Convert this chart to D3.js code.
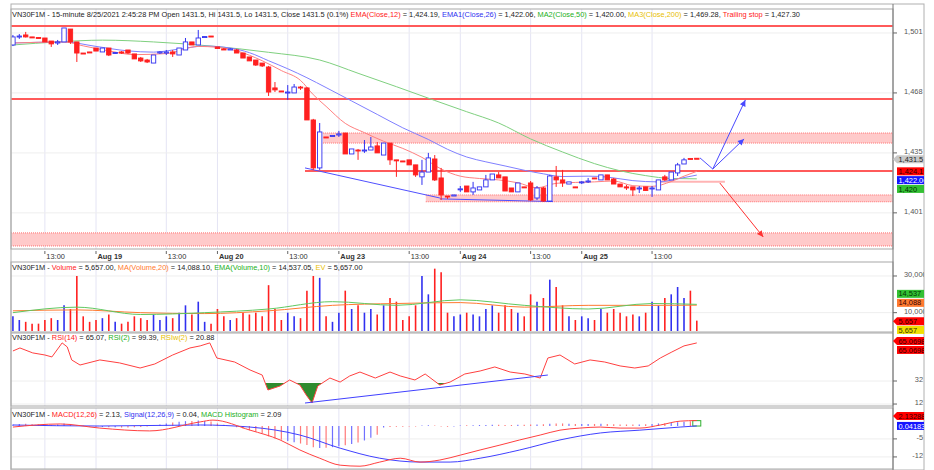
<!DOCTYPE html>
<html lang="en">
<head>
<meta charset="UTF-8">
<title>VN30F1M 15-minute</title>
<script src="https://d3js.org/d3.v7.min.js"></script>
<style>
  body { margin: 0; background: #fff; }
  text { font-family: "Liberation Sans", Arial, sans-serif; font-size: 7.4px; }
</style>
</head>
<body>
<svg></svg>
<script>
// ---- bars (15-minute), index 0 = first visible bar ----
const opens = [1494.8,1499.3,1500.4,1499.3,1499.0,1498.7,1497.0,1495.9,1496.5,1503.7,1496.5,1490.3,1490.9,1493.1,1490.9,1493.1,1490.3,1490.9,1492.0,1489.8,
  1487.5,1486.4,1484.7,1490.3,1490.3,1490.9,1489.2,1492.0,1496.5,1494.8,1499.3,1499.8,1493.7,1492.6,1492.0,1492.0,1490.3,1488.1,1486.4,1484.7,
  1482.5,1470.8,1469.1,1468.0,1468.0,1471.3,1470.8,1452.9,1426.1,1443.4,1444.0,1444.5,1445.6,1433.9,1436.1,1435.9,1436.1,1438.4,1433.3,1440.0,
  1430.6,1430.0,1430.6,1427.8,1421.1,1423.8,1431.1,1420.5,1410.4,1410.4,1414.1,1416.0,1412.7,1413.8,1415.5,1419.4,1422.2,1421.1,1414.9,1412.7,
  1415.5,1417.7,1409.3,1414.9,1407.6,1421.1,1419.4,1417.1,1415.5,1418.0,1418.3,1420.5,1419.4,1422.2,1419.9,1417.1,1415.5,1415.5,1414.6,1415.5,
  1414.4,1413.8,1421.1,1419.4,1423.3,1428.3,1431.4,1431.5];
const highs = [1500.4,1500.9,1502.1,1499.3,1499.0,1498.7,1497.0,1497.6,1504.3,1503.7,1496.5,1490.3,1490.9,1493.1,1493.1,1493.1,1490.9,1491.4,1492.0,1489.8,
  1488.1,1487.0,1489.2,1491.4,1492.0,1492.0,1493.1,1498.7,1496.5,1503.2,1499.5,1499.8,1493.7,1493.1,1493.1,1492.6,1490.3,1488.1,1486.4,1484.7,
  1483.1,1474.1,1469.1,1472.4,1473.0,1471.9,1471.3,1453.5,1451.2,1443.4,1444.2,1446.8,1445.6,1436.7,1436.7,1441.7,1443.4,1440.6,1440.0,1440.0,
  1430.6,1430.0,1430.6,1427.8,1430.6,1434.5,1433.3,1426.1,1410.4,1411.0,1416.0,1416.0,1418.3,1415.5,1422.2,1422.7,1423.8,1421.1,1414.9,1417.7,
  1415.5,1418.8,1416.0,1415.5,1422.2,1427.2,1425.0,1418.3,1415.5,1418.8,1420.5,1420.5,1422.2,1422.2,1420.5,1417.1,1416.6,1415.5,1416.0,1415.5,
  1416.0,1419.4,1422.2,1423.8,1428.9,1431.7,1431.4,1431.5];
const lows = [1494.2,1498.2,1499.0,1499.0,1498.7,1496.5,1493.7,1494.8,1496.5,1495.4,1485.3,1490.0,1490.6,1491.4,1490.9,1488.6,1489.8,1489.8,1489.8,1487.0,
  1485.3,1484.7,1484.7,1489.8,1489.2,1488.1,1489.2,1492.0,1494.8,1494.8,1499.3,1499.5,1492.6,1492.0,1492.0,1490.3,1487.5,1485.9,1483.1,1482.5,
  1466.3,1468.5,1468.8,1464.1,1468.0,1469.7,1452.9,1425.0,1425.0,1443.1,1444.0,1443.4,1433.9,1433.9,1430.6,1434.5,1436.1,1434.5,1433.3,1427.8,
  1421.1,1429.7,1427.8,1421.1,1416.6,1423.8,1418.8,1408.2,1408.8,1410.4,1412.7,1412.7,1411.0,1413.8,1415.5,1419.4,1420.5,1413.2,1412.7,1412.7,
  1415.2,1407.6,1408.2,1407.1,1407.1,1415.5,1415.5,1417.1,1415.2,1417.1,1417.7,1420.2,1419.4,1419.4,1417.1,1415.5,1413.8,1410.4,1412.1,1413.2,
  1409.9,1413.8,1418.8,1419.4,1421.6,1428.3,1431.1,1431.5];
const closes = [1499.3,1499.8,1499.3,1499.0,1498.7,1496.5,1495.4,1496.5,1504.3,1496.5,1490.3,1490.0,1490.6,1491.4,1493.1,1489.2,1490.6,1490.3,1490.3,1487.0,
  1485.9,1485.3,1489.2,1490.9,1490.9,1489.8,1493.1,1496.5,1494.8,1498.7,1499.5,1499.5,1492.8,1492.0,1492.6,1490.3,1487.5,1485.9,1483.6,1483.1,
  1468.5,1469.7,1468.8,1468.5,1471.3,1470.8,1452.9,1426.1,1446.2,1443.1,1444.2,1445.1,1433.9,1436.7,1435.6,1436.1,1437.8,1434.5,1440.0,1430.6,
  1430.3,1429.7,1427.8,1422.2,1423.8,1431.7,1419.4,1411.0,1409.9,1411.0,1414.4,1412.7,1414.9,1415.5,1419.4,1422.7,1420.5,1413.2,1412.7,1417.7,
  1415.2,1408.2,1414.9,1407.6,1421.6,1419.4,1417.7,1418.3,1415.2,1418.3,1418.8,1420.2,1422.2,1419.4,1417.1,1415.5,1414.9,1413.8,1414.9,1413.5,
  1414.9,1419.4,1419.4,1423.8,1427.8,1430.6,1431.1,1431.5];
const volumes = [8000,6000,5000,4000,4000,6000,7000,6000,14000,12000,30000,8000,5000,6000,7000,9000,5000,4000,5000,8000,
  7000,6000,9000,6000,8000,7000,10000,14000,9000,16000,5000,4000,12000,8000,6000,7000,10000,9000,10000,8000,
  25000,12000,6000,10000,8000,7000,22000,30000,29000,8000,5000,10000,22000,12000,14000,10000,12000,9000,14000,18000,
  16000,6000,8000,14000,30000,20000,34000,32000,10000,8000,9000,10000,9000,8000,12000,14000,10000,14000,12000,10000,
  8000,20000,16000,18000,28000,24000,14000,8000,6000,8000,7000,6000,12000,10000,12000,10000,8000,9000,8000,10000,
  16000,14000,18000,20000,24000,18000,22000,5657];

// ---- indicator lines, read at bar index ----
const ema12Idx = [0,8,11,15,19,24,29,32,35,39,42,45,47,49,52,55,58,61,64,67,70,73,76,79,82,85,88,91,94,97,100,103,105,107];
const ema12Val = [1495.9,1496.5,1494.3,1491.5,1489.4,1490.0,1494.0,1493.5,1491.5,1486.0,1480.5,1475.0,1467.0,1460.5,1451.0,1445.8,1441.0,1437.0,1432.0,1425.5,
  1421.5,1420.2,1419.4,1417.8,1415.0,1417.5,1418.0,1418.3,1418.8,1416.2,1415.8,1418.5,1421.5,1424.2];
const ema26Idx = [0,8,13,18,22,26,30,34,37,40,43,46,49,53,57,61,65,68,71,74,77,80,83,86,90,93,97,101,104,107];
const ema26Val = [1495.9,1496.5,1494.0,1491.5,1490.8,1492.5,1494.2,1493.1,1490.5,1486.0,1481.5,1476.5,1471.0,1463.5,1456.0,1448.5,1442.0,1436.5,1432.2,1429.5,
  1427.2,1424.8,1422.8,1421.3,1421.5,1421.0,1419.0,1418.3,1420.0,1422.1];
const ma50Idx = [0,7,14,22,31,40,48,54,60,66,71,76,81,86,91,95,99,103,107];
const ma50Val = [1494.8,1496.5,1497.5,1496.5,1494.2,1490.7,1486.4,1479.0,1471.5,1463.8,1457.5,1451.2,1442.3,1435.0,1428.5,1424.5,1421.8,1420.2,1420.0];

const volMaIdx = [0,10,20,30,40,50,60,70,80,90,100,107];
const volMaVal = [11000,11500,10000,9500,11000,14000,15000,15500,13000,14000,14000,14088];
const volEmaIdx = [0,10,20,30,40,50,60,70,80,90,100,107];
const volEmaVal = [10000,13000,9000,10000,12000,16000,14000,17000,14000,12000,15000,14537];

const rsiIdx = [0,1.1,3.1,5,6.1,7.7,8.5,9.2,10.5,13.6,16.7,19.9,22.2,25,27.7,29.3,30.8,31.9,34.7,37.1,
  39,39.9,41.8,43.3,44.9,45.9,46.8,47.7,49.6,51.2,52.7,54.3,56.7,59,60.6,62.9,64.5,66.8,68.4,70.7,
  73.1,75.4,77.8,80.1,82.5,83.7,85.6,87.9,90.3,92.6,95,97.3,99.4,101.3,103.1,105,107];
const rsiVal = [58.1,60.7,56.4,54.6,52.9,65.1,61.6,50.3,45.9,50.3,47.7,43.3,46.8,54.6,60.7,62.5,65.1,52.0,48.5,41.6,
  37.2,24.2,27.7,32.9,28.5,19.8,12.9,27.7,34.6,31.1,36.4,39.8,34.6,39.8,36.4,32.9,38.1,28.5,31.1,38.1,
  40.7,44.2,39.8,38.1,34.6,52.0,54.6,46.8,50.3,48.5,45.1,43.3,45.1,52.0,57.2,62.5,65.07];
const rsiLow = 31;

const macdIdx = [0,7.4,13.6,21.4,29.3,31.3,37.1,41.8,44.9,48,51.2,54.3,57.4,60.6,63.7,66.8,70,73.1,76.2,79.3,82.5,85.6,88.7,91.9,95,98.1,101.3,104.4,107];
const macdVal = [-0.4,0.8,-0.8,-1.9,1.6,2.3,-1.6,-5.4,-9.3,-12.5,-15.2,-15.6,-14.0,-12.5,-14.0,-13.2,-11.3,-9.3,-7.4,-5.4,-3.5,-1.6,-0.8,-0.4,-0.8,-0.8,0.4,1.9,2.13];
const sigIdx = [0,13.6,29.3,37.1,44.9,51.2,57.4,63.7,68.4,73.1,79.3,85.6,91.9,98.1,104.4,107];
const sigVal = [0.4,0,0.4,-0.4,-3.5,-8.6,-12.5,-14.0,-14.0,-12.5,-9.3,-5.4,-2.7,-1.6,-0.4,0.04];
const histVal = [0.6,0.8,0.9,0.7,0.6,0.5,0.4,0.6,1.0,0.8,
  0.3,0.1,-0.2,-0.3,-0.4,-0.5,-0.5,-0.6,-0.6,-0.5,
  -0.4,-0.2,0.2,0.6,1.0,1.4,1.7,1.9,2.0,2.1,
  2.0,1.8,1.0,0.5,0.0,-0.5,-1.0,-1.6,-2.2,-2.8,
  -4.0,-4.8,-5.3,-5.8,-6.3,-6.8,-7.4,-8.2,-8.5,-8.4,
  -8.2,-7.9,-7.5,-7.0,-6.4,-5.6,-4.6,-3.4,-0.6,-0.4,
  -0.3,-0.3,-0.2,-0.2,0.2,0.3,0.2,-0.2,-0.3,-0.2,
  0.2,0.3,0.3,0.4,0.4,0.5,0.5,0.4,0.4,0.5,
  0.5,0.6,0.6,0.7,0.9,1.0,1.0,0.9,0.8,0.8,
  0.8,0.8,0.9,0.8,0.7,0.6,0.6,0.6,0.6,0.7,
  0.8,1.0,1.1,1.3,1.5,1.7,1.9,2.09];

// ---- drawings on the price pane ----
const lineLevels = [1505.4, 1464.6, 1424.4];
const lineFrom = [-0.3, -0.3, 45.7];
const zoneTop = [1445.6, 1411.0, 1389.8];
const zoneBottom = [1440.0, 1407.2, 1382.5];
const zoneFrom = [48.5, 64.6, -0.3];
const blueLines = [[45.7,1426.1,66.8,1409.3],[66.8,1408.8,84.5,1407.3],[107.5,1431.7,109.5,1425.5]];
const blueArrows = [[109.5,1425.5,114.6,1464.1],[109.5,1425.5,114.4,1442.3]];
const redArrows = [[110.6,1417.7,117.4,1387.5]];
const stopLine = [100.5,1418.4,111.4,1418.4];
const rsiTrend = [45.7,12.9,83.7,37.2];

// ---- axes ----
const tickIdx = [5,13,24,32,43,51,62,70,81,89,100];
const tickLbl = ["13:00","Aug 19","13:00","Aug 20","13:00","Aug 23","13:00","Aug 24","13:00","Aug 25","13:00"];
const priceTicks = [1401, 1434.5, 1468, 1501.5];
const priceLbl = ["1,401","1,435","1,468","1,501"];
const volTicks = [10000, 30000];
const volLbl = ["10,000","30,000"];
const rsiTicks = [12, 32];
const macdTicks = [-12, -5];

const RED = '#ff2020', BLUE = '#3030f0', GREEN = '#22b022', YEL = '#e8c000', ORG = '#ff7a30';

const svg = d3.select('svg').attr('width', 934).attr('height', 470);

const x = d3.scaleLinear().domain([-0.3, 137.7]).range([11, 893]);
const yP = d3.scaleLinear().domain([1380.8, 1514.9]).range([249, 9]);
const yV = d3.scaleLinear().domain([0, 37636]).range([331, 262]);
const yR = d3.scaleLinear().domain([10.3, 73.7]).range([406, 333]);
const yM = d3.scaleLinear().domain([-16.3, 7.0]).range([468, 408]);

const panes = [[9, 249], [262, 332], [333, 406], [408, 469]];
const defs = svg.append('defs');
panes.forEach((p, k) => {
    defs.append('clipPath').attr('id', 'c' + k).append('rect')
        .attr('x', 11).attr('y', p[0]).attr('width', 882).attr('height', p[1] - p[0]);
});
defs.append('clipPath').attr('id', 'axclip').append('rect')
    .attr('x', 893).attr('y', 0).attr('width', 31).attr('height', 470);

// grid
const grid = svg.append('g');
panes.forEach(p => {
    grid.selectAll(null).data(tickIdx).enter().append('line')
        .attr('x1', d => x(d)).attr('x2', d => x(d))
        .attr('y1', p[0]).attr('y2', p[1])
        .attr('stroke', '#e4e4f4').attr('stroke-width', 1);
});
function hgrid(vals, sc) {
    grid.selectAll(null).data(vals).enter().append('line')
        .attr('x1', 11).attr('x2', 893)
        .attr('y1', d => sc(d)).attr('y2', d => sc(d))
        .attr('stroke', '#eeeeee');
}
hgrid(priceTicks, yP); hgrid(volTicks, yV); hgrid(rsiTicks, yR); hgrid(macdTicks, yM);

// ---- price pane ----
const pg = svg.append('g').attr('clip-path', 'url(#c0)');

zoneTop.forEach((t, k) => {
    const x0 = x(zoneFrom[k]);
    pg.append('rect').attr('x', x0).attr('y', yP(t))
        .attr('width', 893 - x0).attr('height', yP(zoneBottom[k]) - yP(t))
        .attr('fill', '#ffcaca');
    [t, zoneBottom[k]].forEach(v => {
        pg.append('line').attr('x1', x0).attr('x2', 893)
            .attr('y1', yP(v)).attr('y2', yP(v))
            .attr('stroke', '#ff7070').attr('stroke-dasharray', '1,1');
    });
});

lineLevels.forEach((v, k) => {
    pg.append('line').attr('x1', x(lineFrom[k])).attr('x2', 893)
        .attr('y1', yP(v)).attr('y2', yP(v))
        .attr('stroke', '#ff5a5a').attr('stroke-width', 2);
});

pg.append('line')
    .attr('x1', x(stopLine[0])).attr('y1', yP(stopLine[1]))
    .attr('x2', x(stopLine[2])).attr('y2', yP(stopLine[3]))
    .attr('stroke', '#ffb4b4').attr('stroke-width', 2);

function curve(g, idx, vals, sc, color, w) {
    g.append('path')
        .datum(idx.map((d, k) => [d, vals[k]]))
        .attr('fill', 'none').attr('stroke', color).attr('stroke-width', w || 1)
        .attr('d', d3.line().x(d => x(d[0])).y(d => sc(d[1])).curve(d3.curveMonotoneX));
}
curve(pg, ma50Idx, ma50Val, yP, '#7fd07f');
curve(pg, ema26Idx, ema26Val, yP, '#8080ff');
curve(pg, ema12Idx, ema12Val, yP, '#ff8080');

blueLines.forEach(s => {
    pg.append('line').attr('x1', x(s[0])).attr('y1', yP(s[1])).attr('x2', x(s[2])).attr('y2', yP(s[3]))
        .attr('stroke', '#5050ff').attr('stroke-width', 1);
});

// arrow heads
function arrow(s, color) {
    const x1 = x(s[0]), y1 = yP(s[1]), x2 = x(s[2]), y2 = yP(s[3]);
    pg.append('line').attr('x1', x1).attr('y1', y1).attr('x2', x2).attr('y2', y2)
        .attr('stroke', color).attr('stroke-width', 1);
    const a = Math.atan2(y2 - y1, x2 - x1), L = 7, s2 = 0.45;
    const p = [[x2, y2],
        [x2 - L * Math.cos(a - s2), y2 - L * Math.sin(a - s2)],
        [x2 - L * Math.cos(a + s2), y2 - L * Math.sin(a + s2)]];
    pg.append('polygon').attr('points', p.join(' ')).attr('fill', color);
}
blueArrows.forEach(s => arrow(s, '#4848ff'));
redArrows.forEach(s => arrow(s, '#ff3030'));

// candles
const bars = d3.range(opens.length).map(i => ({
    i, o: opens[i], h: highs[i], l: lows[i], c: closes[i], v: volumes[i], up: closes[i] > opens[i]
}));
const cg = pg.append('g');
cg.selectAll('line').data(bars).enter().append('line')
    .attr('x1', d => x(d.i)).attr('x2', d => x(d.i))
    .attr('y1', d => yP(d.h)).attr('y2', d => yP(d.l))
    .attr('stroke', d => d.up ? BLUE : RED);
cg.selectAll('rect').data(bars).enter().append('rect')
    .attr('x', d => x(d.i) - 2.2).attr('width', 4.4)
    .attr('y', d => yP(Math.max(d.o, d.c)))
    .attr('height', d => Math.max(1, Math.abs(yP(d.o) - yP(d.c))))
    .attr('fill', d => d.up ? '#fff' : RED)
    .attr('stroke', d => d.up ? BLUE : RED).attr('stroke-width', 0.9);

// ---- volume pane ----
const vg = svg.append('g').attr('clip-path', 'url(#c1)');
vg.selectAll('line').data(bars).enter().append('line')
    .attr('x1', d => x(d.i)).attr('x2', d => x(d.i))
    .attr('y1', yV(0)).attr('y2', d => yV(d.v))
    .attr('stroke', d => d.up ? BLUE : RED).attr('stroke-width', 1.6);
curve(vg, volMaIdx, volMaVal, yV, ORG);
curve(vg, volEmaIdx, volEmaVal, yV, '#60c860');

// ---- RSI pane ----
const rg = svg.append('g').attr('clip-path', 'url(#c2)');
defs.append('clipPath').attr('id', 'rsilow').append('rect')
    .attr('x', 11).attr('y', yR(rsiLow) + 0.8).attr('width', 882).attr('height', 406 - yR(rsiLow));
const rsiPts = rsiIdx.map((d, k) => [d, rsiVal[k]]);
rg.append('path').datum(rsiPts)
    .attr('clip-path', 'url(#rsilow)')
    .attr('fill', '#2e8b2e')
    .attr('d', d3.area().x(d => x(d[0])).y0(yR(rsiLow)).y1(d => yR(d[1])));
rg.append('path').datum(rsiPts)
    .attr('fill', 'none').attr('stroke', '#ff4040')
    .attr('d', d3.line().x(d => x(d[0])).y(d => yR(d[1])));
rg.append('line').attr('x1', x(rsiTrend[0])).attr('y1', yR(rsiTrend[1]))
    .attr('x2', x(rsiTrend[2])).attr('y2', yR(rsiTrend[3]))
    .attr('stroke', '#4040ff');

// ---- MACD pane ----
const mg = svg.append('g').attr('clip-path', 'url(#c3)');
const lastH = histVal.length - 1;
mg.selectAll('line').data(histVal.slice(0, lastH)).enter().append('line')
    .attr('x1', (d, i) => x(i)).attr('x2', (d, i) => x(i))
    .attr('y1', yM(0)).attr('y2', d => yM(d))
    .attr('stroke', (d, i) => bars[i].up ? '#7070ff' : '#ff7878')
    .attr('stroke-width', 1.2);
mg.append('rect')
    .attr('x', x(lastH) - 4).attr('width', 8)
    .attr('y', yM(histVal[lastH])).attr('height', yM(0) - yM(histVal[lastH]))
    .attr('fill', '#fff').attr('stroke', '#30b030');
curve(mg, sigIdx, sigVal, yM, '#4040ff');
curve(mg, macdIdx, macdVal, yM, '#ff4040');

// ---- frames ----
const fr = svg.append('g');
panes.forEach(p => {
    fr.append('rect').attr('x', 11).attr('y', p[0]).attr('width', 882).attr('height', p[1] - p[0])
        .attr('fill', 'none').attr('stroke', '#a8a8a8');
});
fr.append('rect').attr('x', 11).attr('y', 4).attr('width', 913).attr('height', 466)
    .attr('fill', 'none').attr('stroke', '#b0b0b0');
fr.append('line').attr('x1', 893).attr('x2', 893).attr('y1', 4).attr('y2', 470)
    .attr('stroke', '#777');

// x axis labels
const xa = svg.append('g');
tickIdx.forEach((t, k) => {
    xa.append('line').attr('x1', x(t)).attr('x2', x(t)).attr('y1', 251).attr('y2', 254).attr('stroke', '#666');
    xa.append('text').attr('x', x(t) + 1.5).attr('y', 259)
        .attr('fill', '#333')
        .attr('font-weight', tickLbl[k].startsWith('Aug') ? 'bold' : 'normal')
        .text(tickLbl[k]);
});

// right axis
const ra = svg.append('g').attr('clip-path', 'url(#axclip)');
function rticks(vals, labels, sc, anchor) {
    vals.forEach((v, k) => {
        ra.append('line').attr('x1', 893).attr('x2', 897).attr('y1', sc(v)).attr('y2', sc(v)).attr('stroke', '#666');
        ra.append('text').attr('x', anchor === 'end' ? 923 : 904).attr('y', sc(v) + 1)
            .attr('text-anchor', anchor || 'start').attr('fill', '#555').text(labels[k]);
    });
}
rticks(priceTicks, priceLbl, yP);
rticks(volTicks, volLbl, yV);
rticks(rsiTicks, rsiTicks.map(String), yR, 'end');
rticks(macdTicks, macdTicks.map(String), yM, 'end');

function tag(yc, label, bg, fg, pointer) {
    const t = yc - 4, b = yc + 4, l = 897, r = 924;
    const pts = pointer ? [[893, yc], [l, t], [r, t], [r, b], [l, b]] : [[l, t], [r, t], [r, b], [l, b]];
    ra.append('polygon').attr('points', pts.join(' ')).attr('fill', bg);
    ra.append('text').attr('x', l + 1.5).attr('y', yc + 2.6).attr('fill', fg).text(label);
}
const last = bars[bars.length - 1];
tag(yP(last.c) + 1, '1,431.5', '#c8c8c8', '#222', true);
tag(yP(ema12Val[ema12Val.length - 1]), '1,424.19', '#ff0000', '#300', false);
tag(yP(ema12Val[ema12Val.length - 1]) + 8.8, '1,422.06', '#1515ff', '#fff', false);
tag(yP(ema12Val[ema12Val.length - 1]) + 17.6, '1,420', '#33c033', '#030', false);
tag(yV(volEmaVal[volEmaVal.length - 1]) - 10.5, '14,537', '#33c033', '#030', false);
tag(yV(volMaVal[volMaVal.length - 1]) - 2.3, '14,088', '#ff7a30', '#300', false);
tag(yV(last.v) + 0.5, '5,657', '#ff0000', '#300', true);
tag(yV(last.v) + 9.3, '5,657', '#f0e000', '#330', false);
tag(yR(rsiVal[rsiVal.length - 1]) - 2, '65.0698', '#ff0000', '#300', true);
tag(yR(rsiVal[rsiVal.length - 1]) + 7, '65.0698', '#ff0000', '#300', false);
tag(yM(macdVal[macdVal.length - 1]) - 4.5, '2.13288', '#ff0000', '#300', true);
tag(yM(sigVal[sigVal.length - 1]), '0.04183', '#1515ff', '#fff', false);

// ---- legends ----
function legend(yb, parts) {
    const t = svg.append('text').attr('x', 12).attr('y', yb);
    parts.forEach(p => t.append('tspan').attr('fill', p[1] || '#222').text(p[0]));
}
legend(17, [['VN30F1M - 15-minute 8/25/2021 2:45:28 PM Open 1431.5, Hi 1431.5, Lo 1431.5, Close 1431.5 (0.1%) '],
    ['EMA(Close,12)', RED], [' = 1,424.19, '], ['EMA1(Close,26)', BLUE], [' = 1,422.06, '],
    ['MA2(Close,50)', GREEN], [' = 1,420.00, '], ['MA3(Close,200)', YEL], [' = 1,469.28, '],
    ['Trailing stop', RED], [' = 1,427.30']]);
legend(270, [['VN30F1M - '], ['Volume', RED], [' = 5,657.00, '], ['MA(Volume,20)', ORG], [' = 14,088.10, '],
    ['EMA(Volume,10)', GREEN], [' = 14,537.05, '], ['EV', YEL], [' = 5,657.00']]);
legend(340, [['VN30F1M - '], ['RSI(14)', RED], [' = 65.07, '], ['RSI(2)', GREEN], [' = 99.39, '], ['RSIw(2)', YEL], [' = 20.88']]);
legend(417, [['VN30F1M - '], ['MACD(12,26)', RED], [' = 2.13, '], ['Signal(12,26,9)', BLUE], [' = 0.04, '],
    ['MACD Histogram', GREEN], [' = 2.09']]);
</script>
</body>
</html>
